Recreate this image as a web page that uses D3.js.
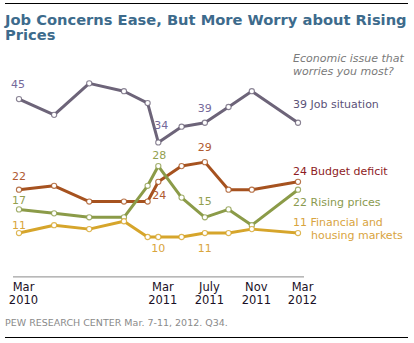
<!DOCTYPE html>
<html>
<head>
<meta charset="utf-8">
<script src="https://cdn.jsdelivr.net/npm/d3@7"></script>
<style>
  html, body { margin: 0; padding: 0; background: #fff; }
  svg { display: block; }
  text { font-family: 'DejaVu Sans', Verdana, sans-serif; }
</style>
</head>
<body>
<svg id="chart" width="414" height="343"></svg>
<script>
// ---------- data ----------
const surveyDates = ["2010-03","2010-06","2010-09","2010-12","2011-02","2011-03","2011-05","2011-07","2011-09","2011-11","2012-03"];
const jobSituation = [45,41,49,47,44,34,38,39,43,47,39];
const budgetDeficit = [22,23,19,19,19,24,28,29,22,22,24];
const risingPrices = [17,16,15,15,23,28,20,15,17,13,22];
const financialHousing = [11,13,12,14,10,10,10,11,11,12,11];
const seriesNames = ["Job situation","Budget deficit","Rising prices","Financial and housing markets"];
const tickDates = ["2010-03","2011-03","2011-07","2011-11","2012-03"];
const tickLabels = [["Mar","2010"],["Mar","2011"],["July","2011"],["Nov","2011"],["Mar","2012"]];
const labeledIdx = [0,5,7];
const titleText = ["Job Concerns Ease, But More Worry about Rising", "Prices"];
const subtitleText = ["Economic issue that", "worries you most?"];
const sourceText = "PEW RESEARCH  CENTER Mar. 7-11, 2012. Q34.";

// ---------- styles / layout ----------
const styles = [
  {line:"#6d6479", num:"#74699a", end:"#5b5278", numDy:[-11,-13,-11], numDx:[-1,3,0], endDy:[-15]},
  {line:"#a6521f", num:"#b05a30", end:"#8e1b24", numDy:[-10,17,-11], numDx:[0,1,0], endDy:[-7]},
  {line:"#8b9b48", num:"#93a04f", end:"#8a9a4e", numDy:[-5,-7,-12], numDx:[0,1,0], endDy:[16]},
  {line:"#d6a52b", num:"#d9a53c", end:"#d9a43e", numDy:[-4,15,19], numDx:[0,0,0], endDy:[-7,6]}
];
const allSeries = [jobSituation, budgetDeficit, risingPrices, financialHousing];

const parse = d3.timeParse("%Y-%m");
const dates = surveyDates.map(parse);

const svg = d3.select("#chart");

const x = d3.scaleTime()
  .domain([parse("2010-03"), parse("2012-03")])
  .range([19, 298]);
const y = d3.scaleLinear()
  .domain([0, 50])
  .range([276.4, 276.4 - 50 * 3.94]);

// top & bottom rules
svg.append("line").attr("x1",5).attr("x2",408).attr("y1",3.5).attr("y2",3.5)
  .attr("stroke","#000").attr("stroke-width",1);
svg.append("line").attr("x1",5).attr("x2",408).attr("y1",337.5).attr("y2",337.5)
  .attr("stroke","#000").attr("stroke-width",1);

// title
const title = svg.append("g");
const titleEls = titleText.map((t,i) => title.append("text")
    .attr("x",5).attr("y",24.5 + i*15.5)
    .attr("font-family","'DejaVu Sans Condensed', 'DejaVu Sans', sans-serif")
    .attr("font-size",16).attr("font-weight","bold")
    .attr("fill","#3d6b8c")
    .text(t));
const tw = titleEls[0].node().getComputedTextLength();
if (tw > 402) {
  const fs = 16 * 402 / tw;
  titleEls.forEach(el => el.attr("font-size", fs));
}

// subtitle
subtitleText.forEach((t,i) => {
  svg.append("text").attr("x",293).attr("y",62 + i*12.5)
    .attr("font-size",11).attr("font-style","italic").attr("fill","#7a7a7a")
    .text(t);
});

// x axis
const axis = d3.axisBottom(x)
  .tickValues(tickDates.map(parse))
  .tickSize(0)
  .tickFormat("");
const axG = svg.append("g").attr("transform","translate(0," + y(0) + ")").call(axis);
axG.select(".domain").remove();
axG.append("line")
  .attr("x1", x.range()[0] - 6).attr("x2", x.range()[1] + 6)
  .attr("y1",0.5).attr("y2",0.5)
  .attr("stroke","#8a8a8a").attr("stroke-width",1);
axG.selectAll(".tick").each(function(d,i){
  const t = d3.select(this).append("text")
    .attr("fill","#1a1026").attr("font-size",11.5)
    .attr("text-anchor","middle");
  tickLabels[i].forEach((s,j) => {
    t.append("tspan").attr("x",4).attr("y",15 + j*12.5).text(s);
  });
});

// lines
const line = d3.line()
  .x((d,i) => x(dates[i]))
  .y(d => y(d));

allSeries.forEach((vals, si) => {
  const st = styles[si];
  const g = svg.append("g");
  g.append("path").datum(vals)
    .attr("d", line)
    .attr("fill","none")
    .attr("stroke", st.line)
    .attr("stroke-width",3)
    .attr("stroke-linejoin","round");
  g.selectAll("circle").data(vals).join("circle")
    .attr("cx",(d,i) => x(dates[i]))
    .attr("cy",d => y(d))
    .attr("r",2.6)
    .attr("fill","#fff")
    .attr("stroke", st.line)
    .attr("stroke-width",1.1)
    .attr("stroke-opacity",0.8);
  labeledIdx.forEach((idx, k) => {
    g.append("text")
      .attr("x", x(dates[idx]) + st.numDx[k])
      .attr("y", y(vals[idx]) + st.numDy[k])
      .attr("text-anchor","middle")
      .attr("font-size",11)
      .attr("fill", st.num)
      .text(vals[idx]);
  });
});

// end labels
const last = dates.length - 1;
allSeries.forEach((vals, si) => {
  const st = styles[si];
  const yy = y(vals[last]);
  if (si === 3) {
    svg.append("text").attr("x",293).attr("y", yy + st.endDy[0])
      .attr("font-size",11).attr("fill",st.end)
      .text(vals[last] + " Financial and");
    svg.append("text").attr("x",311).attr("y", yy + st.endDy[1])
      .attr("font-size",11).attr("fill",st.end)
      .text("housing markets");
  } else {
    svg.append("text").attr("x",293).attr("y", yy + st.endDy[0])
      .attr("font-size",11).attr("fill",st.end)
      .text(vals[last] + " " + seriesNames[si]);
  }
});

// source
svg.append("text").attr("x",5).attr("y",326)
  .attr("font-size",9.5).attr("fill","#8a8a8a")
  .text(sourceText);
</script>
</body>
</html>
